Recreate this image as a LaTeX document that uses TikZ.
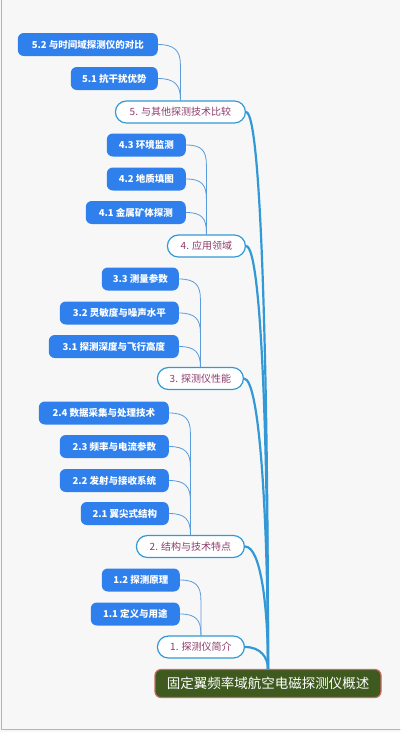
\documentclass[tikz,border=0pt]{standalone}
\usepackage{fontspec}
\setmainfont{Noto Sans CJK SC}
\usetikzlibrary{calc}
\definecolor{leafblue}{HTML}{2F80ED}
\definecolor{twigblue}{HTML}{5A9BDC}
\definecolor{trunkblue}{HTML}{3399D6}
\definecolor{branchtext}{HTML}{8E3B6A}
\definecolor{rootgreen}{HTML}{3E5A1F}
\definecolor{rootedge}{HTML}{C8695E}
\definecolor{paper}{HTML}{F7F7F7}
\definecolor{frame}{HTML}{B4B4B4}

\begin{document}
\begin{tikzpicture}[x=1pt, y=-1pt, line join=round, line cap=round,
	leaf/.style={fill=leafblue, text=white, font=\fontsize{9.5}{11}\selectfont\bfseries,
		rounded corners=6pt, minimum height=23pt, inner xsep=0pt, anchor=east},
	branch/.style={draw=trunkblue, line width=1.2pt, fill=white, text=branchtext,
		font=\fontsize{10}{12}\selectfont, rounded corners=11pt, minimum height=22pt,
		inner xsep=0pt, anchor=east},
	topic/.style={draw=rootedge, line width=1.2pt, fill=rootgreen, text=white,
		font=\fontsize{13.5}{15}\selectfont, rounded corners=6pt,
		minimum width=226pt, minimum height=28pt},
	twig/.style={draw=twigblue, line width=0.8pt,
		to path={.. controls +(16,0) and +(0,-14) .. ($(\tikztostart -| \tikztotarget)+(0,20)$) -- (\tikztotarget)}},
	trunk/.style={draw=trunkblue, line width=2.2pt,
		to path={.. controls +(16,0) and ($(\tikztotarget)!0.5!(\tikztotarget |- \tikztostart)$) .. (\tikztotarget)}}]
	\useasboundingbox (0,0) rectangle (400,732);
	\fill[paper] (0,0) rectangle (400,732);
	\draw[frame, line width=1pt] (1,0) -- (1,729.5) -- (400,729.5);

	% root
	\node[topic] (root) at (268,683.5) {固定翼频率域航空电磁探测仪概述};

	% main branches
	\node[branch, minimum width=130pt] (b5) at (246,112) {5. 与其他探测技术比较};
	\node[branch, minimum width=78pt] (b4) at (246,246) {4. 应用领域};
	\node[branch, minimum width=86pt] (b3) at (244,378.5) {3. 探测仪性能};
	\node[branch, minimum width=108pt] (b2) at (245,546.5) {2. 结构与技术特点};
	\node[branch, minimum width=87pt] (b1) at (245,647) {1. 探测仪简介};

	% leaves
	\node[leaf, minimum width=140pt] (c52) at (158,44.5) {5.2 与时间域探测仪的对比};
	\node[leaf, minimum width=87pt] (c51) at (158,78.5) {5.1 抗干扰优势};
	\node[leaf, minimum width=79pt] (c43) at (186,145) {4.3 环境监测};
	\node[leaf, minimum width=79pt] (c42) at (186,179) {4.2 地质填图};
	\node[leaf, minimum width=100pt] (c41) at (186,212.5) {4.1 金属矿体探测};
	\node[leaf, minimum width=77pt] (c33) at (179,279) {3.3 测量参数};
	\node[leaf, minimum width=119pt] (c32) at (179,313) {3.2 灵敏度与噪声水平};
	\node[leaf, minimum width=130pt] (c31) at (179,346.5) {3.1 探测深度与飞行高度};
	\node[leaf, minimum width=130pt] (c24) at (169,413) {2.4 数据采集与处理技术};
	\node[leaf, minimum width=109pt] (c23) at (169,446.5) {2.3 频率与电流参数};
	\node[leaf, minimum width=109pt] (c22) at (169,480.5) {2.2 发射与接收系统};
	\node[leaf, minimum width=88pt] (c21) at (169,513.5) {2.1 翼尖式结构};
	\node[leaf, minimum width=78pt] (c12) at (180,580) {1.2 探测原理};
	\node[leaf, minimum width=89pt] (c11) at (180,614) {1.1 定义与用途};

	% connectors
	\foreach \c in {c51,c52} \draw[twig] (\c.east) to (b5.north);
	\foreach \c in {c41,c42,c43} \draw[twig] (\c.east) to (b4.north);
	\foreach \c in {c31,c32,c33} \draw[twig] (\c.east) to (b3.north);
	\foreach \c in {c21,c22,c23,c24} \draw[twig] (\c.east) to (b2.north);
	\foreach \c in {c11,c12} \draw[twig] (\c.east) to (b1.north);
	\foreach \b in {b1,b2,b3,b4,b5} \draw[trunk] (\b.east) to (root.north);
\end{tikzpicture}
\end{document}
